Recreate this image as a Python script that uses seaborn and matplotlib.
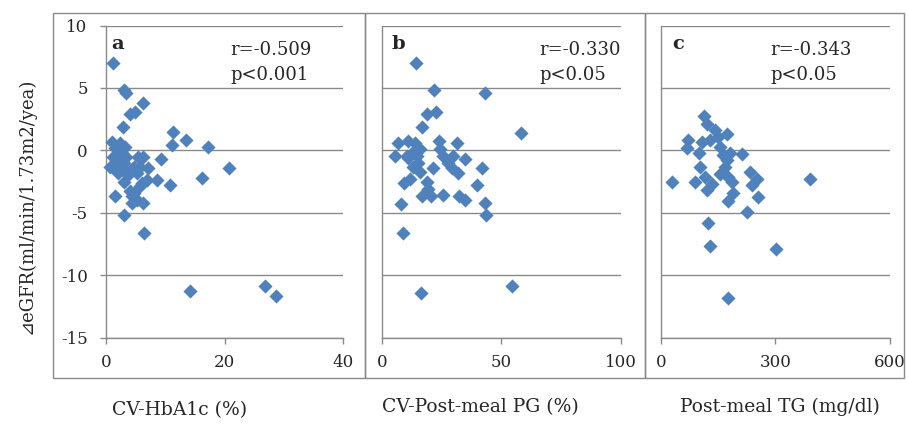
import numpy as np
import pandas as pd
import seaborn as sns
import matplotlib.pyplot as plt
from matplotlib.patches import Rectangle

# panel a: CV-HbA1c (%) vs delta eGFR
hba1c_x = [1.3, 3.0, 3.4, 6.3, 4.1, 4.9, 2.9, 11.4, 11.1, 13.5, 17.3, 20.7, 16.2, 10.8,
           9.3, 8.6, 6.3, 6.4, 3.0, 1.6, 14.2, 26.8, 28.6, 1.0, 2.4, 1.3, 1.3, 2.1, 3.0,
           3.0, 3.5, 3.3, 2.7, 4.7, 5.2, 5.8, 4.4, 5.2, 4.4, 4.7, 6.3, 5.5, 5.8, 7.2, 7.0,
           6.1, 1.6, 2.1, 1.85, 3.8, 3.3, 4.1, 2.4, 0.7]
hba1c_y = [7.0, 4.8, 4.6, 3.8, 2.9, 3.1, 1.85, 1.45, 0.4, 0.8, 0.25, -1.45, -2.2, -2.8,
           -0.7, -2.4, -4.2, -6.6, -5.2, -3.7, -11.3, -10.9, -11.7, 0.7, 0.55, -0.5, -1.3,
           -1.8, -2.5, -1.0, -0.5, 0.3, -0.25, -1.3, -1.85, -2.9, -3.7, -4.0, -4.2, -3.4,
           -0.5, -0.5, -1.3, -1.45, -2.4, -2.6, 0.15, -0.5, -1.45, -2.0, -1.6, -3.3, -0.9, -1.3]

# panel b: CV-Post-meal PG (%)
pg_x = [14.2, 21.9, 43.3, 22.7, 19.1, 16.7, 58.1, 6.7, 10.9, 13.9, 24.0, 31.3, 5.6, 11.1,
        16.0, 12.5, 24.4, 25.8, 29.9, 34.8, 27.9, 29.2, 32.0, 21.3, 16.0, 41.8, 39.9, 9.5,
        11.8, 18.8, 19.5, 16.7, 20.5, 25.5, 32.3, 34.8, 43.2, 43.6, 8.1, 9.0, 16.4, 54.3,
        14.6, 15.3, 13.2, 10.4]
pg_y = [7.0, 4.8, 4.6, 3.1, 2.9, 1.9, 1.4, 0.55, 0.75, 0.55, 0.75, 0.55, -0.45, -0.65,
        0.1, -0.2, 0.1, -0.45, -0.45, -0.7, -1.0, -1.4, -1.8, -1.4, -1.7, -1.45, -2.8, -2.6,
        -2.3, -2.5, -3.1, -3.7, -3.7, -3.6, -3.7, -4.0, -4.2, -5.2, -4.3, -6.6, -11.4, -10.9,
        -0.45, -1.0, -1.3, -0.45]

# panel c: Post-meal TG (mg/dl)
tg_x = [112, 120, 142, 173, 72, 68, 107, 129, 151, 155, 99, 181, 212, 173, 103, 155, 177,
        234, 251, 238, 29, 90, 133, 120, 186, 188, 175, 254, 225, 391, 125, 129, 303, 175,
        164, 116, 168]
tg_y = [2.75, 2.1, 1.65, 1.3, 0.8, 0.15, 0.7, 0.8, 1.1, 0.25, -0.25, -0.25, -0.3, -0.8,
        -1.35, -1.9, -2.1, -1.75, -2.3, -2.8, -2.5, -2.5, -2.7, -3.2, -2.5, -3.4, -4.1,
        -3.75, -4.95, -2.3, -5.8, -7.7, -7.9, -11.8, -0.4, -2.15, -1.35]

panel_letters = ["a", "b", "c"]
r_texts = ["r=-0.509", "r=-0.330", "r=-0.343"]
p_texts = ["p<0.001", "p<0.05", "p<0.05"]
x_titles = ["CV-HbA1c (%)", "CV-Post-meal PG (%)", "Post-meal TG (mg/dl)"]
x_limits = [(0, 40), (0, 100), (0, 600)]
x_ticks = [[0, 20, 40], [0, 50, 100], [0, 300, 600]]
y_ticks = [-15, -10, -5, 0, 5, 10]
y_title = "\u22bfeGFR(ml/min/1.73m2/yea)"

sns.set_style("white")
plt.rcParams["font.family"] = ["DejaVu Serif", "DejaVu Sans"]
plt.rcParams["axes.unicode_minus"] = False

gray = "#8a8a8a"
blue = "#4F81BD"
W, H = 908, 426

fig = plt.figure(figsize=(9.08, 4.26), dpi=100)

# chart boxes (pixels)
boxes = [(53, 365), (365, 645), (645, 904)]
for x0, x1 in boxes:
    fig.patches.append(Rectangle((x0 / W, 1 - 378 / H), (x1 - x0) / W, (378 - 13) / H,
                                 transform=fig.transFigure, fill=False,
                                 edgecolor=gray, linewidth=1.0))

plot_px = [(105.7, 343.3), (381.7, 621), (660.7, 890)]
top_px, bot_px = 25.5, 337.5

datasets = [(hba1c_x, hba1c_y), (pg_x, pg_y), (tg_x, tg_y)]
text_x = [(1.0, 21.0), (4.3, 66.0), (30, 286)]
title_px = [(180, 410), (480, 407), (780, 407)]

for i, (xs, ys) in enumerate(datasets):
    l, r = plot_px[i]
    ax = fig.add_axes([l / W, 1 - bot_px / H, (r - l) / W, (bot_px - top_px) / H])
    df = pd.DataFrame({"x": xs, "y": ys})
    ax.yaxis.grid(True, color=gray, linewidth=1.0)
    ax.set_axisbelow(True)
    sns.scatterplot(data=df, x="x", y="y", marker="D", color=blue, s=52,
                    linewidth=0, ax=ax, zorder=3, clip_on=False)
    ax.set_xlim(*x_limits[i])
    ax.set_ylim(-15, 10)
    ax.set_xticks(x_ticks[i])
    ax.set_yticks(y_ticks)
    ax.set_xlabel("")
    ax.set_ylabel("")
    for s in ["top", "right"]:
        ax.spines[s].set_visible(False)
    for s in ["left", "bottom"]:
        ax.spines[s].set_color(gray)
        ax.spines[s].set_linewidth(1.0)
    ax.tick_params(axis="x", direction="out", length=4, width=1, color=gray,
                   pad=8, labelsize=12, bottom=True)
    ax.tick_params(axis="y", direction="out", length=4, width=1, color=gray,
                   pad=9, labelsize=12, left=True)
    if i > 0:
        ax.set_yticklabels([])
        ax.tick_params(axis="y", length=0)
    lx, rx = text_x[i]
    ax.text(lx, 8.5, panel_letters[i], fontsize=14, fontweight="bold",
            ha="left", va="center")
    ax.text(rx, 8.05, r_texts[i], fontsize=13, ha="left", va="center")
    ax.text(rx, 6.0, p_texts[i], fontsize=13, ha="left", va="center")
    tx, ty = title_px[i]
    fig.text(tx / W, 1 - ty / H, x_titles[i], fontsize=13.5, ha="center", va="center")

fig.text(26 / W, 1 - 206 / H, y_title, fontsize=13, rotation=90,
         ha="center", va="center")

fig.savefig("out.png", dpi=100)
